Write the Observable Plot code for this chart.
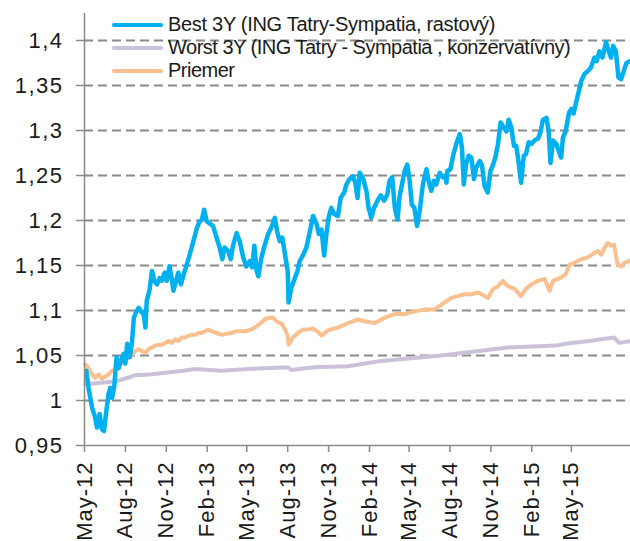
<!DOCTYPE html>
<html>
<head>
<meta charset="utf-8">
<script src="https://cdn.jsdelivr.net/npm/d3@7"></script>
<script src="https://cdn.jsdelivr.net/npm/@observablehq/plot@0.6"></script>
<style>
  html, body { margin: 0; padding: 0; background: #fff; }
  #wrap { position: relative; width: 630px; height: 541px; overflow: hidden; font-family: "Liberation Sans", Arial, sans-serif; }
  #legend { position: absolute; left: 112px; top: 13px; }
  .row { display: flex; align-items: center; height: 23px; }
  .sw { width: 51px; height: 4px; border-radius: 2px; margin-right: 5px; }
  .lbl { font-size: 20px; color: #1a1a1a; white-space: nowrap; }
</style>
</head>
<body>
<div id="wrap"><div id="legend"></div></div>
<script>
// ---- data ----
const seriesNames = ["Best 3Y (ING Tatry-Sympatia, rastový)", "Worst 3Y (ING Tatry - Sympatia , konzervatívny)", "Priemer"];
const seriesColors = ["#00B0F0", "#CCC1DA", "#FAC090"];

const bestDates = ["2012-05-05","2012-05-10","2012-05-18","2012-05-25","2012-05-29","2012-06-04","2012-06-09","2012-06-14","2012-06-19","2012-06-24","2012-06-28","2012-07-02","2012-07-07","2012-07-12","2012-07-17","2012-07-22","2012-07-28","2012-08-01","2012-08-05","2012-08-11","2012-08-16","2012-08-20","2012-08-26","2012-08-31","2012-09-05","2012-09-11","2012-09-15","2012-09-18","2012-09-24","2012-09-30","2012-10-05","2012-10-11","2012-10-17","2012-10-22","2012-10-28","2012-11-02","2012-11-08","2012-11-13","2012-11-17","2012-11-23","2012-11-28","2012-12-04","2012-12-10","2012-12-17","2012-12-23","2012-12-28","2013-01-03","2013-01-09","2013-01-15","2013-01-20","2013-01-25","2013-01-31","2013-02-14","2013-02-22","2013-03-01","2013-03-07","2013-03-12","2013-03-20","2013-03-26","2013-03-31","2013-04-08","2013-04-15","2013-04-23","2013-04-30","2013-05-08","2013-05-13","2013-05-18","2013-05-23","2013-05-27","2013-06-03","2013-06-10","2013-06-18","2013-06-25","2013-07-03","2013-07-09","2013-07-14","2013-07-20","2013-07-26","2013-08-01","2013-08-03","2013-08-09","2013-08-15","2013-08-23","2013-08-28","2013-09-05","2013-09-12","2013-09-20","2013-09-27","2013-10-05","2013-10-10","2013-10-16","2013-10-22","2013-10-27","2013-11-01","2013-11-07","2013-11-14","2013-11-22","2013-11-28","2013-12-06","2013-12-11","2013-12-18","2013-12-26","2013-12-31","2014-01-05","2014-01-10","2014-01-18","2014-01-25","2014-01-30","2014-02-05","2014-02-11","2014-02-19","2014-02-26","2014-03-06","2014-03-13","2014-03-18","2014-03-24","2014-03-30","2014-04-05","2014-04-10","2014-04-15","2014-04-21","2014-04-27","2014-05-02","2014-05-07","2014-05-13","2014-05-19","2014-05-25","2014-06-01","2014-06-09","2014-06-14","2014-06-20","2014-06-26","2014-07-01","2014-07-09","2014-07-16","2014-07-22","2014-07-24","2014-07-26","2014-08-02","2014-08-08","2014-08-15","2014-08-23","2014-08-28","2014-09-01","2014-09-06","2014-09-12","2014-09-18","2014-09-24","2014-09-29","2014-10-07","2014-10-12","2014-10-18","2014-10-25","2014-10-31","2014-11-06","2014-11-11","2014-11-17","2014-11-23","2014-11-30","2014-12-06","2014-12-11","2014-12-17","2014-12-23","2014-12-28","2015-01-02","2015-01-08","2015-01-14","2015-01-19","2015-01-25","2015-01-31","2015-02-07","2015-02-15","2015-02-21","2015-02-26","2015-03-06","2015-03-11","2015-03-15","2015-03-21","2015-03-28","2015-04-05","2015-04-08","2015-04-12","2015-04-18","2015-04-26","2015-05-01","2015-05-06","2015-05-12","2015-05-18","2015-05-23","2015-05-31","2015-06-07","2015-06-14","2015-06-22","2015-06-27","2015-07-03","2015-07-10","2015-07-18","2015-07-24","2015-07-29","2015-08-03","2015-08-09","2015-08-15","2015-08-21","2015-08-28","2015-09-02","2015-09-10"];
const bestValues = [1.033,1.014,0.992,0.981,0.970,0.985,0.968,0.966,0.988,1.007,1.014,1.003,1.016,1.048,1.036,1.044,1.052,1.041,1.063,1.048,1.066,1.092,1.099,1.103,1.099,1.096,1.081,1.111,1.122,1.144,1.133,1.129,1.136,1.133,1.142,1.133,1.149,1.136,1.122,1.133,1.142,1.129,1.140,1.151,1.161,1.170,1.181,1.192,1.199,1.201,1.212,1.199,1.194,1.181,1.170,1.157,1.170,1.166,1.157,1.172,1.186,1.177,1.159,1.149,1.155,1.148,1.172,1.144,1.138,1.159,1.172,1.185,1.192,1.203,1.186,1.177,1.181,1.162,1.144,1.109,1.125,1.133,1.144,1.155,1.162,1.170,1.188,1.205,1.196,1.185,1.190,1.161,1.185,1.203,1.214,1.207,1.205,1.225,1.231,1.240,1.246,1.249,1.242,1.225,1.253,1.246,1.233,1.214,1.203,1.214,1.222,1.228,1.222,1.229,1.244,1.248,1.214,1.201,1.228,1.240,1.255,1.262,1.246,1.218,1.214,1.194,1.211,1.240,1.257,1.244,1.233,1.244,1.240,1.253,1.248,1.250,1.242,1.255,1.257,1.272,1.285,1.296,1.281,1.240,1.262,1.272,1.270,1.246,1.259,1.266,1.261,1.238,1.231,1.255,1.262,1.270,1.285,1.309,1.303,1.299,1.312,1.303,1.283,1.283,1.266,1.242,1.272,1.274,1.287,1.285,1.289,1.291,1.299,1.312,1.314,1.299,1.264,1.289,1.285,1.274,1.270,1.292,1.299,1.320,1.324,1.319,1.332,1.344,1.355,1.363,1.366,1.370,1.381,1.377,1.388,1.381,1.398,1.388,1.381,1.394,1.388,1.359,1.357,1.368,1.375,1.377];

const worstDates = ["2012-05-03","2012-06-13","2012-07-08","2012-08-05","2012-08-22","2012-09-24","2012-12-10","2013-01-04","2013-03-05","2013-05-04","2013-08-02","2013-08-09","2013-10-01","2013-12-15","2014-02-27","2014-07-12","2014-12-09","2015-03-28","2015-04-18","2015-06-10","2015-08-05","2015-08-17","2015-09-10"];
const worstValues = [1.018,1.020,1.021,1.025,1.028,1.029,1.033,1.035,1.033,1.035,1.037,1.034,1.037,1.038,1.044,1.050,1.059,1.061,1.063,1.066,1.070,1.064,1.066];

const avgDates = ["2012-05-03","2012-05-10","2012-05-18","2012-05-25","2012-06-02","2012-06-09","2012-06-17","2012-06-24","2012-07-02","2012-07-10","2012-07-17","2012-07-24","2012-08-01","2012-08-08","2012-08-16","2012-08-23","2012-08-31","2012-09-07","2012-09-15","2012-09-22","2012-09-30","2012-10-07","2012-10-15","2012-10-22","2012-10-30","2012-11-06","2012-11-13","2012-11-21","2012-11-28","2012-12-06","2012-12-13","2012-12-21","2012-12-28","2013-01-05","2013-01-12","2013-01-20","2013-01-27","2013-02-03","2013-02-10","2013-02-22","2013-03-05","2013-03-16","2013-03-27","2013-04-08","2013-04-19","2013-04-30","2013-05-11","2013-05-19","2013-05-30","2013-06-10","2013-06-21","2013-06-29","2013-07-07","2013-07-19","2013-07-26","2013-08-01","2013-08-03","2013-08-13","2013-08-24","2013-09-05","2013-09-16","2013-09-27","2013-10-09","2013-10-16","2013-10-31","2013-11-22","2013-12-15","2014-01-06","2014-01-21","2014-02-13","2014-03-07","2014-03-30","2014-04-21","2014-05-13","2014-06-05","2014-06-27","2014-07-20","2014-08-04","2014-08-19","2014-09-03","2014-09-18","2014-10-03","2014-10-18","2014-10-25","2014-11-06","2014-11-17","2014-11-28","2014-12-09","2014-12-24","2015-01-08","2015-01-19","2015-01-31","2015-02-15","2015-03-02","2015-03-13","2015-03-21","2015-04-05","2015-04-18","2015-04-27","2015-05-08","2015-05-23","2015-06-07","2015-06-22","2015-06-30","2015-07-07","2015-07-15","2015-07-22","2015-07-29","2015-08-05","2015-08-13","2015-08-21","2015-08-28","2015-09-09"];
const avgValues = [1.040,1.036,1.029,1.025,1.029,1.024,1.027,1.029,1.033,1.035,1.038,1.042,1.044,1.048,1.051,1.055,1.057,1.055,1.053,1.057,1.059,1.061,1.062,1.062,1.064,1.066,1.064,1.068,1.066,1.070,1.070,1.072,1.073,1.073,1.075,1.075,1.077,1.079,1.077,1.075,1.073,1.074,1.075,1.077,1.077,1.077,1.079,1.081,1.085,1.090,1.092,1.092,1.088,1.085,1.079,1.072,1.062,1.070,1.075,1.079,1.079,1.080,1.076,1.072,1.078,1.081,1.086,1.090,1.088,1.086,1.092,1.096,1.096,1.099,1.101,1.101,1.109,1.114,1.116,1.118,1.118,1.120,1.116,1.114,1.124,1.127,1.133,1.127,1.124,1.116,1.124,1.129,1.133,1.135,1.122,1.133,1.136,1.140,1.151,1.153,1.157,1.159,1.164,1.166,1.162,1.170,1.175,1.172,1.173,1.151,1.149,1.153,1.155];

const yTicks = [0.95, 1, 1.05, 1.1, 1.15, 1.2, 1.25, 1.3, 1.35, 1.4];
const gridValues = [1, 1.05, 1.1, 1.15, 1.2, 1.25, 1.3, 1.35, 1.4];
const xTickDates = ["2012-05-01","2012-08-01","2012-11-01","2013-02-01","2013-05-01","2013-08-01","2013-11-01","2014-02-01","2014-05-01","2014-08-01","2014-11-01","2015-02-01","2015-05-01"];
const xDomain = ["2012-05-01", "2015-09-11"];
const yDomain = [0.95, 1.43];
const legendSpacing = ["-0.3px", "-0.5px", "-0.5px"];

// ---- build tables ----
const toRows = (dates, values) => dates.map((d, i) => ({date: new Date(d), value: values[i]}));
const best = toRows(bestDates, bestValues);
const worst = toRows(worstDates, worstValues);
const avg = toRows(avgDates, avgValues);

const axisColor = "#8a8a8a";
const chart = Plot.plot({
  width: 630,
  height: 541,
  marginLeft: 84,
  marginRight: 0,
  marginTop: 13,
  marginBottom: 96,
  style: {fontFamily: '"Liberation Sans", Arial, sans-serif', background: "#fff", color: "#1a1a1a"},
  x: {type: "utc", domain: xDomain.map(d => new Date(d))},
  y: {domain: yDomain},
  marks: [
    Plot.ruleY(gridValues, {stroke: axisColor, strokeWidth: 2, strokeDasharray: "9,5"}),
    Plot.lineY(worst, {x: "date", y: "value", stroke: seriesColors[1], strokeWidth: 4, strokeLinejoin: "round", strokeLinecap: "round"}),
    Plot.lineY(avg, {x: "date", y: "value", stroke: seriesColors[2], strokeWidth: 4, strokeLinejoin: "round", strokeLinecap: "round"}),
    Plot.lineY(best, {x: "date", y: "value", stroke: seriesColors[0], strokeWidth: 4.5, strokeLinejoin: "round", strokeLinecap: "round"}),
    Plot.ruleX([new Date(xDomain[0])], {stroke: axisColor, strokeWidth: 1.5}),
    Plot.ruleY([yDomain[0]], {stroke: axisColor, strokeWidth: 1.5}),
    Plot.axisY({ticks: yTicks, tickFormat: d => String(d).replace(".", ","), tickSize: 8, tickPadding: 13, fontSize: 22, stroke: axisColor, strokeWidth: 1.5, label: null}),
    Plot.axisX({ticks: xTickDates.map(d => new Date(d)), tickFormat: d3.utcFormat("%b-%y"), tickRotate: -90, tickSize: 7, tickPadding: 9, fontSize: 22, stroke: axisColor, strokeWidth: 1.5, label: null})
  ]
});
d3.select(chart).selectAll('g[aria-label="y-axis tick label"] text').style("letter-spacing", "1.5px");
d3.select(chart).selectAll('g[aria-label="x-axis tick label"] text').style("letter-spacing", "1px");

const wrap = document.getElementById("wrap");
wrap.insertBefore(chart, wrap.firstChild);
chart.style.position = "absolute";
chart.style.left = "0";
chart.style.top = "0";

const legend = document.getElementById("legend");
seriesNames.forEach((name, i) => {
  const row = document.createElement("div");
  row.className = "row";
  const sw = document.createElement("span");
  sw.className = "sw";
  sw.style.background = seriesColors[i];
  const lbl = document.createElement("span");
  lbl.className = "lbl";
  lbl.style.letterSpacing = legendSpacing[i];
  lbl.textContent = name;
  row.appendChild(sw);
  row.appendChild(lbl);
  legend.appendChild(row);
});
</script>
</body>
</html>
